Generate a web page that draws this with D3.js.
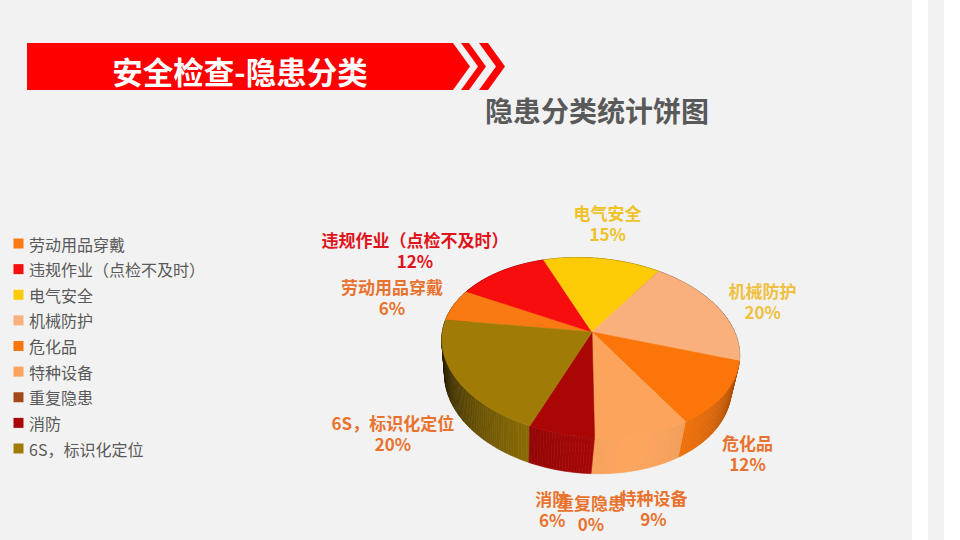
<!DOCTYPE html>
<html>
<head>
<meta charset="UTF-8">
<script src="https://d3js.org/d3.v7.min.js"></script>
<style>
    body { margin: 0; background: #fff; }
    svg { display: block; font-family: "Noto Sans CJK SC", "Noto Sans", sans-serif; }
</style>
</head>
<body>
<svg id="chart" width="960" height="540"></svg>
<script>
// data
const categories = ["劳动用品穿戴", "违规作业（点检不及时）", "电气安全", "机械防护", "危化品", "特种设备", "重复隐患", "消防", "6S，标识化定位"];
const values = [6, 12, 15, 20, 12, 9, 0, 6, 20];
const colors = ["#f97a12", "#f70d0d", "#fccb05", "#f9b07c", "#fb7509", "#fca45c", "#a4481c", "#aa0606", "#a07c06"];
const labelColors = ["#e9722e", "#e0141c", "#f0c22a", "#f0c040", "#e9722e", "#e9722e", "#e9722e", "#e9722e", "#e9722e"];
const mainTitle = "安全检查-隐患分类";
const chartTitle = "隐患分类统计饼图";

const svg = d3.select("#chart");
const W = 960, H = 540;

// page background + the two strips at the right edge
svg.append("rect").attr("width", W).attr("height", H).attr("fill", "#f2f2f2");
svg.append("rect").attr("x", 912).attr("width", 16).attr("height", H).attr("fill", "#fff");
svg.append("rect").attr("x", 944).attr("width", 16).attr("height", H).attr("fill", "#fff");

// red banner with chevrons
const banner = svg.append("g");
const bTop = 43, bBot = 90, bMid = (bTop + bBot) / 2;
banner.append("path")
    .attr("d", `M27,${bTop}H453L470,${bMid}L453,${bBot}H27Z`)
    .attr("fill", "#fe0000");
[[461, 8], [479, 9]].forEach(([x0, w]) => {
    banner.append("path")
        .attr("d", `M${x0},${bTop}H${x0 + w}L${x0 + w + 17},${bMid}L${x0 + w},${bBot}H${x0}L${x0 + 17},${bMid}Z`)
        .attr("fill", "#fe0000");
});
banner.append("text")
    .attr("x", 240).attr("y", 71)
    .attr("text-anchor", "middle")
    .attr("dominant-baseline", "central")
    .attr("fill", "#fff")
    .attr("font-size", 30.5)
    .attr("font-weight", "bold")
    .text(mainTitle);

svg.append("text")
    .attr("x", 597).attr("y", 110)
    .attr("text-anchor", "middle")
    .attr("dominant-baseline", "central")
    .attr("fill", "#595959")
    .attr("font-size", 28)
    .attr("font-weight", "bold")
    .text(chartTitle);

// legend
const legendY = d3.scalePoint().domain(categories).range([243.5, 448.5]);
const legend = svg.append("g");
legend.selectAll("rect")
    .data(categories)
    .join("rect")
    .attr("x", 13.5)
    .attr("y", d => legendY(d) - 5)
    .attr("width", 10).attr("height", 10)
    .attr("fill", (d, i) => colors[i]);
legend.selectAll("text")
    .data(categories)
    .join("text")
    .attr("x", 29)
    .attr("y", d => legendY(d))
    .attr("dominant-baseline", "central")
    .attr("fill", "#595959")
    .attr("font-size", 16)
    .text(d => d);

// 3D pie projection (tilted disc, perspective, slight roll)
const cx = 592, cy = 332, k = 147;
const sinA = 0.59, cosA = Math.sqrt(1 - sinA * sinA);
const D = 4.66, thick = 0.3;
const roll = 4.7 * Math.PI / 180, cosR = Math.cos(roll), sinR = Math.sin(roll);

function project(r, theta, Y) {
    const X = r * Math.sin(theta), Z = r * Math.cos(theta);
    const yc = Y * cosA + Z * sinA;
    const zc = -Y * sinA + Z * cosA;
    const s = D / (D + zc);
    const x0 = k * X * s, y0 = -k * yc * s;
    return [cx + x0 * cosR - y0 * sinR, cy + x0 * sinR + y0 * cosR, zc];
}

const pie = d3.pie().sort(null).value(d => d.value)
    .startAngle(-Math.PI / 2).endAngle(Math.PI * 1.5);
const arcs = pie(categories.map((c, i) => ({ name: c, value: values[i], color: colors[i], i: i })));
const total = d3.sum(values);
const pct = d3.format(".0%");

const step = Math.PI / 180;
function arcPoints(a0, a1, Y) {
    const n = Math.max(1, Math.ceil((a1 - a0) / step));
    return d3.range(n + 1).map(j => project(1, a0 + (a1 - a0) * j / n, Y));
}

// light coming from front-right
const L = [0.3, -1];
const Ln = Math.hypot(L[0], L[1]);
function shade(color, theta) {
    const dot = (Math.sin(theta) * L[0] + Math.cos(theta) * L[1]) / Ln;
    const f = 0.22 + 0.78 * Math.max(0, dot);
    return d3.interpolateRgb("#000", color)(f);
}

// side wall pieces sorted far to near
const sides = [];
arcs.forEach(a => {
    if (a.endAngle - a.startAngle <= 0) return;
    const n = Math.max(1, Math.ceil((a.endAngle - a.startAngle) / step));
    for (let j = 0; j < n; j++) {
        const t0 = a.startAngle + (a.endAngle - a.startAngle) * j / n;
        const t1 = a.startAngle + (a.endAngle - a.startAngle) * (j + 1) / n;
        const tm = (t0 + t1) / 2;
        const p = [project(1, t0, 0), project(1, t1, 0), project(1, t1, -thick), project(1, t0, -thick)];
        sides.push({ p: p, z: project(1, tm, -thick / 2)[2], fill: shade(a.data.color, tm) });
    }
});
sides.sort((a, b) => b.z - a.z);

const pieG = svg.append("g");
pieG.selectAll("path.side")
    .data(sides)
    .join("path")
    .attr("class", "side")
    .attr("d", d => "M" + d.p.map(q => q[0].toFixed(2) + "," + q[1].toFixed(2)).join("L") + "Z")
    .attr("fill", d => d.fill)
    .attr("stroke", d => d.fill)
    .attr("stroke-width", 0.6);

pieG.selectAll("path.top")
    .data(arcs.filter(a => a.endAngle > a.startAngle))
    .join("path")
    .attr("class", "top")
    .attr("d", a => {
        const pts = [project(0, 0, 0)].concat(arcPoints(a.startAngle, a.endAngle, 0));
        return "M" + pts.map(q => q[0].toFixed(2) + "," + q[1].toFixed(2)).join("L") + "Z";
    })
    .attr("fill", a => a.data.color)
    .attr("stroke", a => a.data.color)
    .attr("stroke-width", 0.6);

// data labels outside the pie
const fs = 17, lineGap = 21, padX = 4, padY = 13;
const labels = svg.append("g")
    .attr("font-size", fs)
    .attr("font-weight", "bold");
arcs.forEach(a => {
    const mid = (a.startAngle + a.endAngle) / 2;
    const front = Math.cos(mid) < 0;
    const anchor = project(1.06, mid, front ? -thick : 0);
    const g = labels.append("g").attr("fill", labelColors[a.data.i]);
    const t1 = g.append("text").attr("text-anchor", "middle").attr("dominant-baseline", "central").text(a.data.name);
    const t2 = g.append("text").attr("text-anchor", "middle").attr("dominant-baseline", "central").text(pct(a.data.value / total));
    const w = Math.max(t1.node().getComputedTextLength(), t2.node().getComputedTextLength());
    const h = lineGap + fs;
    let dx = anchor[0] - cx, dy = anchor[1] - cy;
    const len = Math.hypot(dx, dy);
    dx /= len; dy /= len;
    const bx = anchor[0] + dx * (w / 2 + padX), by = anchor[1] + dy * (h / 2 + padY);
    t1.attr("x", bx).attr("y", by - lineGap / 2);
    t2.attr("x", bx).attr("y", by + lineGap / 2);
});
</script>
</body>
</html>
